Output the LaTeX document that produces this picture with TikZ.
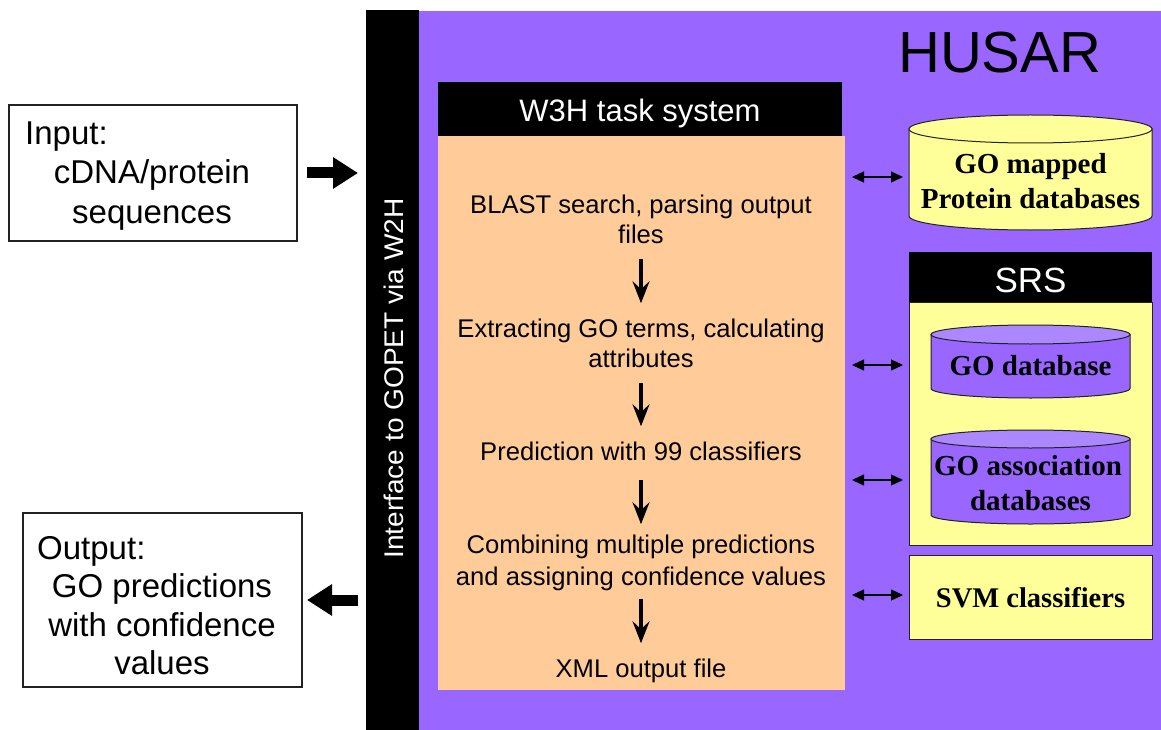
\documentclass[tikz,border=0pt]{standalone}
\usepackage{fontspec}
\setmainfont{Liberation Sans}
\newfontfamily\timesf{Liberation Serif}
\usetikzlibrary{arrows.meta}
\definecolor{purp}{HTML}{9966FF}
\definecolor{purptop}{HTML}{AB88FF}
\definecolor{orng}{HTML}{FFCC99}
\definecolor{yel}{HTML}{FFFF99}
\definecolor{edge}{HTML}{222222}
\newcommand\cylshape[5]{%
  \path[draw=edge,line width=1pt,fill=#4] ([yshift=-#3pt]#1.north west) -- ([yshift=#3pt]#1.south west)
    arc[start angle=180,end angle=360,x radius=#2pt,y radius=#3pt] -- ([yshift=-#3pt]#1.north east) -- cycle;
  \path[draw=edge,line width=1pt,fill=#5] ([yshift=-#3pt]#1.north) ellipse[x radius=#2pt,y radius=#3pt];}
\tikzset{
  area/.style={inner sep=0pt,outer sep=0pt},
  plainbox/.style={area,draw=edge,line width=1.2pt,fill=white},
  ybox/.style={area,draw=edge,line width=1pt,fill=yel},
  blackbar/.style={area,fill=black},
  ghost/.style={area},
  sanstxt/.style={inner sep=0pt,font=\fontsize{25.6}{30}\selectfont},
  iotxt/.style={inner sep=0pt,font=\fontsize{33}{38}\selectfont},
  whitetxt/.style={inner sep=0pt,text=white},
  dbtxt/.style={inner sep=0pt,font=\timesf\bfseries\fontsize{29}{34}\selectfont},
  downarr/.style={-{Stealth[length=22pt,width=17pt,inset=8pt]},line width=3.8pt},
  bigarr/.style={-{Triangle[length=25pt,width=30pt]},line width=11pt},
  dbl/.style={{Triangle[length=12pt,width=11pt]}-{Triangle[length=12pt,width=11pt]},line width=1.3pt}
}
\begin{document}
\begin{tikzpicture}[x=1pt,y=-1pt]
\useasboundingbox (0,0) rectangle (1161,730);
% backgrounds
\node[area,fill=purp,minimum width=742pt,minimum height=719pt] (husar) at (790,370.5) {};
\node[blackbar,minimum width=53pt,minimum height=720pt] (bar) at (392.5,370) {};
\node[whitetxt,rotate=90,anchor=base,font=\fontsize{27}{30}\selectfont] (iface) at (403,378.5) {\scalebox{1.04}[1]{Interface to GOPET via W2H}};
\node[inner sep=0pt,anchor=base west,font=\fontsize{58}{60}\selectfont] (husartxt) at (898,73) {HUSAR};
% W3H task system
\node[blackbar,minimum width=404pt,minimum height=54pt] (w3h) at (640,109) {};
\node[whitetxt,anchor=base,font=\fontsize{31}{34}\selectfont] (w3htxt) at (640,122) {W3H task system};
\node[area,fill=orng,minimum width=407pt,minimum height=554pt] (orange) at (641.5,413) {};
\node[sanstxt,anchor=base] (s1a) at (641,213) {BLAST search, parsing output};
\node[sanstxt,anchor=base] (s1b) at (641,243) {files};
\node[sanstxt,anchor=base] (s2a) at (641,337) {Extracting GO terms, calculating};
\node[sanstxt,anchor=base] (s2b) at (641,367) {attributes};
\node[sanstxt,anchor=base] (s3) at (641,460) {Prediction with 99 classifiers};
\node[sanstxt,anchor=base] (s4a) at (641,553) {Combining multiple predictions};
\node[sanstxt,anchor=base] (s4b) at (641,585) {and assigning confidence values};
\node[sanstxt,anchor=base] (s5) at (641,677) {XML output file};
\draw[downarr,shorten <=16pt,shorten >=15pt] (s1b.south) -- (s2a.north);
\draw[downarr,shorten <=16pt,shorten >=15pt] (s2b.south) -- (s3.north);
\draw[downarr,shorten <=20pt,shorten >=10pt] (s3.south) -- (s4a.north);
\draw[downarr,shorten <=8pt,shorten >=15pt] (s4b.south) -- (s5.north);
% input / output
\node[plainbox,minimum width=288pt,minimum height=136pt] (inbox) at (153,173) {};
\node[iotxt,anchor=base west] (in1) at (25,145) {Input:};
\node[iotxt,anchor=base] (in2) at (152,184) {cDNA/protein};
\node[iotxt,anchor=base] (in3) at (152,223) {sequences};
\node[plainbox,minimum width=279pt,minimum height=174pt] (outbox) at (162.5,600) {};
\node[iotxt,anchor=base west] (out1) at (37,559) {Output:};
\node[iotxt,anchor=base] (out2) at (162,597) {GO predictions};
\node[iotxt,anchor=base] (out3) at (162,636) {with confidence};
\node[iotxt,anchor=base] (out4) at (162,674) {values};
\draw[bigarr,shorten <=10pt,shorten >=8pt] (inbox.east) -- (inbox.east -| bar.west);
\draw[bigarr,shorten <=8pt,shorten >=5pt] (outbox.east -| bar.west) -- (outbox.east);
% right side
\node[ghost,minimum width=243pt,minimum height=115pt] (gomap) at (1030.5,172.5) {};
\cylshape{gomap}{121.5}{14}{yel}{yel}
\node[dbtxt,anchor=base] (gomap1) at (1030.5,174) {GO mapped};
\node[dbtxt,anchor=base] (gomap2) at (1030.5,208) {Protein databases};
\node[blackbar,minimum width=243pt,minimum height=50pt] (srsbar) at (1030.5,277) {};
\node[whitetxt,anchor=base,font=\fontsize{35}{38}\selectfont] (srstxt) at (1030.5,292) {SRS};
\node[ybox,minimum width=243pt,minimum height=243pt] (srsbox) at (1030.5,423.5) {};
\node[ghost,minimum width=199pt,minimum height=73pt] (godb) at (1030.5,361.5) {};
\cylshape{godb}{99.5}{9.5}{purp}{purptop}
\node[dbtxt,anchor=base] (godbtxt) at (1030.5,375) {GO database};
\node[ghost,minimum width=199pt,minimum height=94pt] (goassoc) at (1030.5,477) {};
\cylshape{goassoc}{99.5}{9}{purp}{purptop}
\node[dbtxt,anchor=base] (goassoc1) at (1028,475) {GO association};
\node[dbtxt,anchor=base] (goassoc2) at (1030.5,510) {databases};
\node[ybox,minimum width=243pt,minimum height=84pt] (svm) at (1030.5,597) {};
\node[dbtxt,anchor=base,font=\timesf\bfseries\fontsize{28.5}{32}\selectfont] (svmtxt) at (1030.5,607) {SVM classifiers};
% double arrows
\draw[dbl,shorten <=7pt,shorten >=6pt] ([yshift=-4.5pt]gomap.west -| orange.east) -- ([yshift=-4.5pt]gomap.west);
\draw[dbl,shorten <=7pt,shorten >=6pt] ([yshift=-3.5pt]godb.west -| orange.east) -- ([yshift=-3.5pt]godb.west -| srsbox.west);
\draw[dbl,shorten <=7pt,shorten >=6pt] ([yshift=-3pt]goassoc.west -| orange.east) -- ([yshift=-3pt]goassoc.west -| srsbox.west);
\draw[dbl,shorten <=7pt,shorten >=6pt] ([yshift=2pt]svm.west -| orange.east) -- ([yshift=2pt]svm.west);
\end{tikzpicture}
\end{document}
